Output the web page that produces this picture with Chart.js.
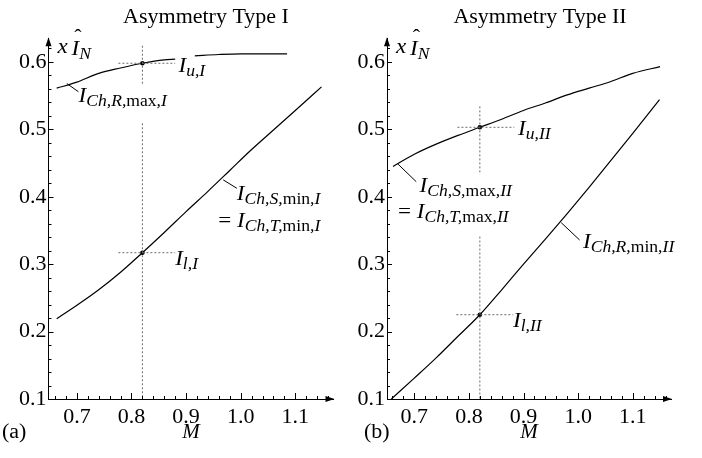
<!DOCTYPE html>
<html>
<head>
<meta charset="utf-8">
<script src="https://cdn.jsdelivr.net/npm/chart.js@4.4.1/dist/chart.umd.min.js"></script>
<style>
  body { margin: 0; background: #fff; }
  .panel { position: absolute; top: 0; width: 351px; height: 458px; }
</style>
</head>
<body>
<div class="panel" style="left:0"><canvas id="chartA"></canvas></div>
<div class="panel" style="left:351px"><canvas id="chartB"></canvas></div>
<script>
// tick labels
const xTicks = [0.7, 0.8, 0.9, 1.0, 1.1];
const yTicks = [0.1, 0.2, 0.3, 0.4, 0.5, 0.6];

// Asymmetry Type I
const mUpperI = [0.663, 0.70, 0.74, 0.78, 0.82, 0.86, 0.88, 0.90, 0.916, 0.96, 1.00, 1.04, 1.085];
const vUpperI = [0.561, 0.570, 0.583, 0.591, 0.598, 0.603, 0.604, null, 0.609, 0.611, 0.612, 0.612, 0.612];
const mLowerI = [0.663, 0.70, 0.74, 0.78, 0.82, 0.86, 0.90, 0.94, 0.98, 1.02, 1.06, 1.10, 1.148];
const vLowerI = [0.219, 0.239, 0.262, 0.288, 0.317, 0.347, 0.378, 0.408, 0.439, 0.470, 0.499, 0.528, 0.563];
const mOpI = 0.82;
const vOpUpperI = 0.598;
const vOpLowerI = 0.317;

// Asymmetry Type II
const mUpperII = [0.661, 0.70, 0.74, 0.78, 0.82, 0.86, 0.90, 0.94, 0.98, 1.02, 1.06, 1.10, 1.15];
const vUpperII = [0.445, 0.463, 0.478, 0.491, 0.503, 0.515, 0.528, 0.539, 0.551, 0.561, 0.571, 0.583, 0.593];
const mLowerII = [0.658, 0.70, 0.74, 0.78, 0.82, 0.86, 0.90, 0.94, 0.98, 1.02, 1.06, 1.10, 1.149];
const vLowerII = [0.100, 0.131, 0.161, 0.193, 0.225, 0.262, 0.300, 0.337, 0.375, 0.414, 0.454, 0.494, 0.544];
const mOpII = 0.82;
const vOpUpperII = 0.503;
const vOpLowerII = 0.225;

const SERIF = '"Liberation Serif", Tinos, "Times New Roman", Times, "DejaVu Serif", "Noto Serif", serif';
const STRETCH = 1.1;

const pts = (xs, ys) => xs.map((x, i) => ({ x: x, y: ys[i] }));

function curve(xs, ys) {
  return { data: pts(xs, ys), showLine: true, pointRadius: 0, borderColor: '#000',
    borderWidth: 1.2, cubicInterpolationMode: 'monotone' };
}
function dotted(xs, ys) {
  return { data: pts(xs, ys), showLine: true, pointRadius: 0, borderColor: '#6a6a6a',
    borderWidth: 1, borderDash: [2, 2] };
}
function leader(xs, ys) {
  return { data: pts(xs, ys), showLine: true, pointRadius: 0, borderColor: '#000', borderWidth: 1 };
}
function dots(xs, ys) {
  return { data: pts(xs, ys), showLine: false, pointRadius: 2.3, backgroundColor: '#000',
    borderColor: '#000', borderWidth: 0 };
}

function drawRich(ctx, x, y, parts) {
  ctx.save();
  ctx.translate(x, y);
  ctx.scale(STRETCH, 1);
  let cx = 0;
  parts.forEach(p => {
    const size = p[2] ? 16 : 21;
    ctx.font = (p[1] ? 'italic ' : '') + size + 'px ' + SERIF;
    ctx.fillText(p[0], cx, p[2] ? 4 : 0);
    cx += ctx.measureText(p[0]).width;
  });
  ctx.restore();
}

function makeDecor(cfg) {
  return {
    id: 'decor',
    afterDraw(chart) {
      const ctx = chart.ctx;
      const a = chart.chartArea;
      const sx = chart.scales.x, sy = chart.scales.y;
      ctx.save();
      ctx.fillStyle = '#000';
      ctx.strokeStyle = '#000';
      ctx.lineWidth = 1;
      ctx.textAlign = 'left';
      ctx.textBaseline = 'alphabetic';

      // inward ticks
      ctx.beginPath();
      for (let k = 33; k <= 58; k++) {
        const px = Math.round(sx.getPixelForValue(k / 50)) + 0.5;
        const len = k % 5 === 0 ? 6 : 3;
        ctx.moveTo(px, a.bottom);
        ctx.lineTo(px, a.bottom - len);
      }
      for (let k = 6; k <= 31; k++) {
        const py = Math.round(sy.getPixelForValue(k / 50)) + 0.5;
        const len = k % 5 === 0 ? 5 : 3;
        ctx.moveTo(a.left, py);
        ctx.lineTo(a.left + len, py);
      }
      ctx.stroke();

      // arrow heads
      ctx.beginPath();
      ctx.moveTo(a.right + 1, a.bottom);
      ctx.lineTo(a.right - 8, a.bottom - 3);
      ctx.lineTo(a.right - 8, a.bottom + 3);
      ctx.closePath();
      ctx.moveTo(a.left, a.top - 1);
      ctx.lineTo(a.left - 3, a.top + 8);
      ctx.lineTo(a.left + 3, a.top + 8);
      ctx.closePath();
      ctx.fill();

      // axis label x I^_N
      drawRich(ctx, a.left + 9, a.top + 14.7, [['x', 1, 0]]);
      drawRich(ctx, a.left + 23, a.top + 16.7, [['I', 1, 0], ['N', 1, 1]]);
      ctx.font = '22px ' + SERIF;
      ctx.textAlign = 'center';
      ctx.fillText('\u02C6', a.left + 29.5, a.top + 6);
      ctx.textAlign = 'left';

      // title
      ctx.font = '20px ' + SERIF;
      const tw = ctx.measureText(cfg.title).width * STRETCH;
      ctx.save();
      ctx.translate(cfg.titleX - tw / 2, 23);
      ctx.scale(STRETCH, 1);
      ctx.fillText(cfg.title, 0, 0);
      ctx.restore();

      // panel letter
      ctx.save();
      ctx.translate(cfg.letterX, 438);
      ctx.scale(STRETCH, 1);
      ctx.fillText(cfg.letter, 0, 0);
      ctx.restore();

      // curve labels
      cfg.labels.forEach(l => {
        drawRich(ctx, sx.getPixelForValue(l.m), sy.getPixelForValue(l.v), l.parts);
      });
      ctx.restore();
    }
  };
}

function makeChart(id, cfg) {
  return new Chart(document.getElementById(id), {
    type: 'scatter',
    data: { datasets: cfg.datasets },
    options: {
      responsive: true,
      maintainAspectRatio: false,
      animation: false,
      layout: { padding: { left: 0, right: cfg.padRight, top: 38.3, bottom: 0 } },
      plugins: { legend: { display: false }, tooltip: { enabled: false } },
      scales: {
        x: {
          type: 'linear',
          min: cfg.xMin,
          max: 1.17,
          afterBuildTicks: s => { s.ticks = xTicks.map(v => ({ value: v })); },
          afterFit: s => { s.height = 59; },
          grid: { display: false, drawTicks: false },
          border: { display: true, color: '#000', width: 1 },
          ticks: { color: '#000', padding: 5, maxRotation: 0, autoSkip: false,
            font: { family: SERIF, size: 22 }, callback: v => v.toFixed(1) },
          title: { display: true, text: 'M', color: '#000',
            font: { family: SERIF, size: 21, style: 'italic' }, padding: { top: 0, bottom: 13.4 } }
        },
        y: {
          type: 'linear',
          min: 0.1,
          max: 0.635,
          afterBuildTicks: s => { s.ticks = yTicks.map(v => ({ value: v })); },
          afterFit: s => { s.width = cfg.yWidth; },
          grid: { display: false, drawTicks: false },
          border: { display: true, color: '#000', width: 1 },
          ticks: { color: '#000', padding: 2, autoSkip: false,
            font: { family: SERIF, size: 22 }, callback: v => v.toFixed(1) }
        }
      }
    },
    plugins: [makeDecor(cfg)]
  });
}

makeChart('chartA', {
  title: 'Asymmetry Type I', titleX: 206, letter: '(a)', letterX: 2,
  xMin: 0.648, yWidth: 48.5, padRight: 17.5,
  datasets: [
    dotted([mOpI, mOpI, mOpI, mOpI, mOpI], [0.624, 0.566, null, 0.509, 0.1]),
    dotted([0.776, 0.880], [vOpUpperI, vOpUpperI]),
    dotted([0.776, 0.880], [vOpLowerI, vOpLowerI]),
    curve(mUpperI, vUpperI),
    curve(mLowerI, vLowerI),
    leader([0.6815, 0.7027], [0.568, 0.5558]),
    leader([0.968, 0.993], [0.425, 0.4125]),
    dots([mOpI, mOpI], [vOpUpperI, vOpLowerI])
  ],
  labels: [
    { m: 0.886, v: 0.585, parts: [['I', 1, 0], ['u,I', 1, 1]] },
    { m: 0.703, v: 0.541, parts: [['I', 1, 0], ['Ch,R,', 1, 1], ['max', 0, 1], [',I', 1, 1]] },
    { m: 0.993, v: 0.395, parts: [['I', 1, 0], ['Ch,S,', 1, 1], ['min', 0, 1], [',I', 1, 1]] },
    { m: 0.959, v: 0.3556, parts: [['= ', 0, 0], ['I', 1, 0], ['Ch,T,', 1, 1], ['min', 0, 1], [',I', 1, 1]] },
    { m: 0.880, v: 0.2988, parts: [['I', 1, 0], ['l,I', 1, 1]] }
  ]
});

makeChart('chartB', {
  title: 'Asymmetry Type II', titleX: 189, letter: '(b)', letterX: 13,
  xMin: 0.65, yWidth: 36, padRight: 31,
  datasets: [
    dotted([mOpII, mOpII, mOpII, mOpII, mOpII], [0.534, 0.433, null, 0.341, 0.1]),
    dotted([0.779, 0.883], [vOpUpperII, vOpUpperII]),
    dotted([0.777, 0.881], [vOpLowerII, vOpLowerII]),
    curve(mUpperII, vUpperII),
    curve(mLowerII, vLowerII),
    leader([0.670, 0.7035], [0.4485, 0.4223]),
    leader([0.969, 1.0027], [0.3615, 0.3358]),
    dots([mOpII, mOpII], [vOpUpperII, vOpLowerII])
  ],
  labels: [
    { m: 0.890, v: 0.4915, parts: [['I', 1, 0], ['u,II', 1, 1]] },
    { m: 0.7097, v: 0.4074, parts: [['I', 1, 0], ['Ch,S,', 1, 1], ['max', 0, 1], [',II', 1, 1]] },
    { m: 0.670, v: 0.368, parts: [['= ', 0, 0], ['I', 1, 0], ['Ch,T,', 1, 1], ['max', 0, 1], [',II', 1, 1]] },
    { m: 1.0088, v: 0.3235, parts: [['I', 1, 0], ['Ch,R,', 1, 1], ['min', 0, 1], [',II', 1, 1]] },
    { m: 0.8806, v: 0.2073, parts: [['I', 1, 0], ['l,II', 1, 1]] }
  ]
});
</script>
</body>
</html>
